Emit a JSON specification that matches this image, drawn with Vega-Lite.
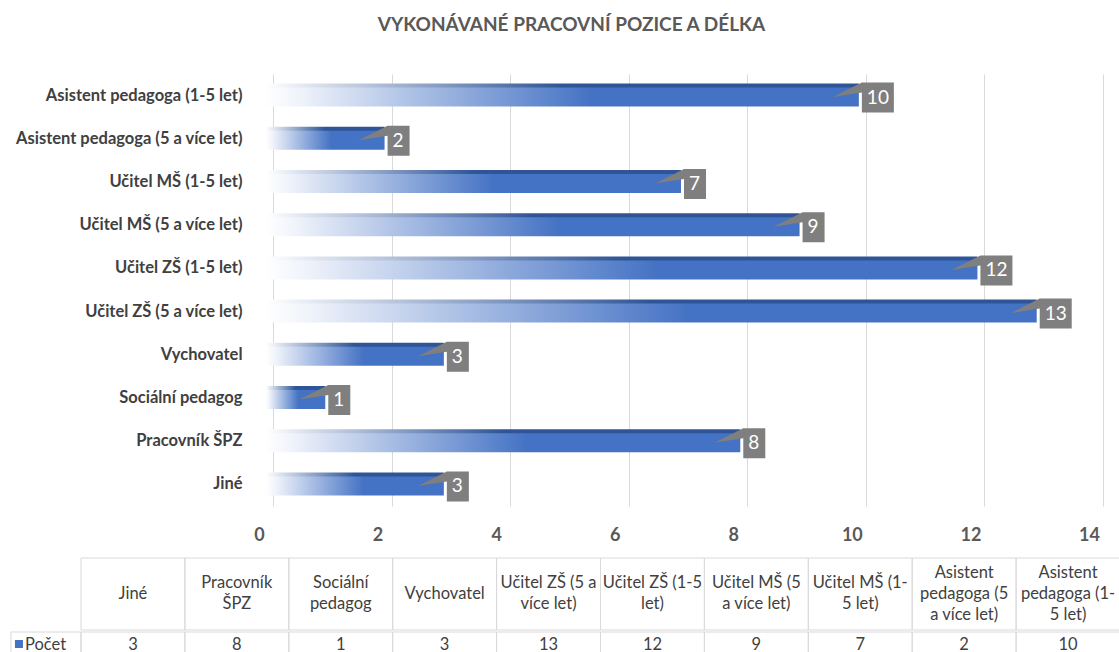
{
  "$schema": "https://vega.github.io/schema/vega-lite/v6.json",
  "padding": {"left": 10, "top": 16, "right": 0, "bottom": 0},
  "background": "white",
  "config": {"view": {"stroke": null}, "font": "Lato"},
  "title": {"text": "VYKONÁVANÉ PRACOVNÍ POZICE A DÉLKA", "font": "Lato", "fontSize": 19, "fontWeight": "bold", "color": "#595959", "offset": 39, "dx": 6, "anchor": "middle", "letterSpacing": 0.3},
  "datasets": {
    "d": [
      {"category": "Jiné", "header": "Jiné", "value": 3, "series": "Počet"},
      {"category": "Pracovník ŠPZ", "header": "Pracovník\nŠPZ", "value": 8, "series": "Počet"},
      {"category": "Sociální pedagog", "header": "Sociální\npedagog", "value": 1, "series": "Počet"},
      {"category": "Vychovatel", "header": "Vychovatel", "value": 3, "series": "Počet"},
      {"category": "Učitel ZŠ (5 a více let)", "header": "Učitel ZŠ (5 a\nvíce let)", "value": 13, "series": "Počet"},
      {"category": "Učitel ZŠ (1-5 let)", "header": "Učitel ZŠ (1-5\nlet)", "value": 12, "series": "Počet"},
      {"category": "Učitel MŠ (5 a více let)", "header": "Učitel MŠ (5\na více let)", "value": 9, "series": "Počet"},
      {"category": "Učitel MŠ (1-5 let)", "header": "Učitel MŠ (1-\n5 let)", "value": 7, "series": "Počet"},
      {"category": "Asistent pedagoga (5 a více let)", "header": "Asistent\npedagoga (5\na více let)", "value": 2, "series": "Počet"},
      {"category": "Asistent pedagoga (1-5 let)", "header": "Asistent\npedagoga (1-\n5 let)", "value": 10, "series": "Počet"}
    ]
  },
  "spacing": 0,
  "vconcat": [
    {
      "width": 1039,
      "height": 432,
      "data": {"name": "d"},
      "encoding": {
        "y": {
          "field": "category", "type": "nominal",
          "sort": ["Asistent pedagoga (1-5 let)", "Asistent pedagoga (5 a více let)", "Učitel MŠ (1-5 let)", "Učitel MŠ (5 a více let)", "Učitel ZŠ (1-5 let)", "Učitel ZŠ (5 a více let)", "Vychovatel", "Sociální pedagog", "Pracovník ŠPZ", "Jiné"],
          "scale": {"paddingInner": 0, "paddingOuter": 0},
          "axis": {"title": null, "ticks": false, "domain": false, "offset": -185, "labelPadding": 24, "labelFont": "Lato", "labelFontSize": 16.5, "labelFontWeight": "bold", "labelColor": "#404040", "labelLimit": 400}
        },
        "x": {
          "field": "value", "type": "quantitative",
          "scale": {"domain": [0, 14], "nice": false, "range": [185, 1015]},
          "axis": {"title": null, "values": [0, 2, 4, 6, 8, 10, 12, 14], "domain": false, "ticks": false, "grid": true, "gridColor": "#D9D9D9", "gridWidth": 1, "labelFont": "Lato", "labelFontSize": 18, "labelFontWeight": "bold", "labelColor": "#595959", "labelPadding": 20, "labelFlush": false, "labelOverlap": false, "tickOffset": 7, "labelOffset": -14, "minExtent": 51, "maxExtent": 51}
        }
      },
      "layer": [
        {
          "mark": {"type": "bar", "size": 20, "yOffset": 1, "color": {"gradient": "linear", "x1": 0, "y1": 0, "x2": 1, "y2": 0, "stops": [{"offset": 0, "color": "#FFFFFF"}, {"offset": 0.06, "color": "#EEF2FA"}, {"offset": 0.55, "color": "#4472C4"}, {"offset": 1, "color": "#4472C4"}]}}
        },
        {
          "mark": {"type": "bar", "size": 4, "yOffset": -10, "color": {"gradient": "linear", "x1": 0, "y1": 0, "x2": 1, "y2": 0, "stops": [{"offset": 0, "color": "#FFFFFF"}, {"offset": 0.06, "color": "#E4E9F2"}, {"offset": 0.5, "color": "#2F5597"}, {"offset": 1, "color": "#2F5597"}]}}
        },
        {
          "mark": {"type": "point", "filled": true, "color": "#7F7F7F", "opacity": 1, "size": 400, "strokeWidth": 0},
          "encoding": {
            "shape": {"condition": {"test": "datum.value >= 10", "value": "M-2.6,0.15L0.3,-1.3L3.5,-1.3L3.5,1.7L0.3,1.7L0.3,-0.3Z"}, "value": "M-2.6,0.15L0.3,-1.3L2.5,-1.3L2.5,1.7L0.3,1.7L0.3,-0.3Z"}
          }
        },
        {
          "mark": {"type": "text", "align": "left", "baseline": "middle", "dx": 8, "dy": 2, "color": "white", "font": "Lato", "fontSize": 19},
          "encoding": {"text": {"field": "value", "type": "quantitative"}}
        }
      ]
    },
    {
      "width": 1039,
      "height": 72,
      "data": {"name": "d"},
      "encoding": {
        "x": {"field": "category", "type": "nominal", "sort": null, "axis": null, "scale": {"paddingInner": 0, "paddingOuter": 0}}
      },
      "layer": [
        {"mark": {"type": "rect", "fill": "white", "fillOpacity": 0, "stroke": "#D9D9D9", "strokeWidth": 1}},
        {"transform": [{"filter": "length(split(datum.header, '\\n')) == 1"}], "mark": {"type": "text", "align": "center", "baseline": "middle", "lineBreak": "\n", "lineHeight": 21, "dy": 0, "font": "Lato", "fontSize": 16.5, "color": "#404040"}, "encoding": {"text": {"field": "header"}}},
        {"transform": [{"filter": "length(split(datum.header, '\\n')) == 2"}], "mark": {"type": "text", "align": "center", "baseline": "middle", "lineBreak": "\n", "lineHeight": 21, "dy": -11, "font": "Lato", "fontSize": 16.5, "color": "#404040"}, "encoding": {"text": {"field": "header"}}},
        {"transform": [{"filter": "length(split(datum.header, '\\n')) == 3"}], "mark": {"type": "text", "align": "center", "baseline": "middle", "lineBreak": "\n", "lineHeight": 21, "dy": -21, "font": "Lato", "fontSize": 16.5, "color": "#404040"}, "encoding": {"text": {"field": "header"}}}
      ]
    },
    {
      "width": 1039,
      "height": 24,
      "data": {"name": "d"},
      "encoding": {
        "x": {"field": "category", "type": "nominal", "sort": null, "axis": null, "scale": {"paddingInner": 0, "paddingOuter": 0}}
      },
      "layer": [
        {"mark": {"type": "rect", "fill": "white", "fillOpacity": 0, "stroke": "#D9D9D9", "strokeWidth": 1}},
        {"mark": {"type": "text", "align": "center", "baseline": "middle", "dy": 1, "font": "Lato", "fontSize": 16.5, "color": "#404040"}, "encoding": {"text": {"field": "value", "type": "quantitative"}}},
        {"transform": [{"filter": "datum.category === 'Jiné'"}], "mark": {"type": "rect", "width": 70, "xOffset": -87, "fill": "white", "fillOpacity": 0, "stroke": "#D9D9D9", "strokeWidth": 1}},
        {"transform": [{"filter": "datum.category === 'Jiné'"}], "mark": {"type": "point", "shape": "square", "filled": true, "opacity": 1, "size": 64, "color": "#4472C4", "xOffset": -114}},
        {"transform": [{"filter": "datum.category === 'Jiné'"}], "mark": {"type": "text", "align": "left", "baseline": "middle", "dx": -108, "dy": 1, "font": "Lato", "fontSize": 16.5, "color": "#404040"}, "encoding": {"text": {"field": "series"}}}
      ]
    }
  ]
}
